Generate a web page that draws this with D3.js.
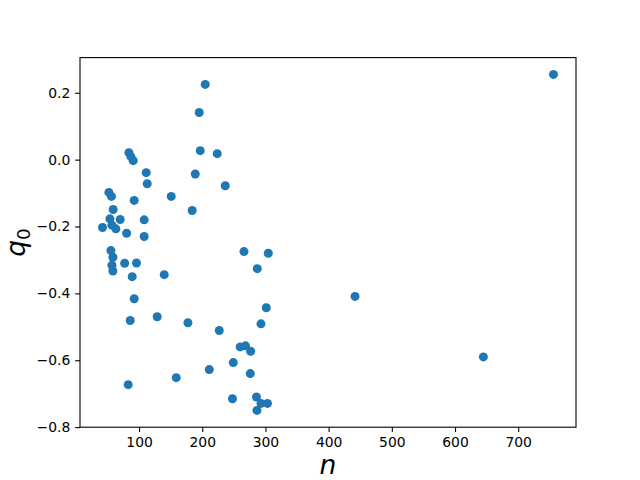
<!DOCTYPE html>
<html>
<head>
<meta charset="utf-8">
<script src="https://cdn.jsdelivr.net/npm/d3@7"></script>
<style>
  html, body { margin: 0; padding: 0; background: #fff; }
  svg { display: block; }
  text { font-family: "DejaVu Sans", sans-serif; }
</style>
</head>
<body>
<svg id="chart" width="640" height="480"></svg>
<script>
// Data
const nValues = [204.7, 195.2, 83.9, 87.1, 90.7, 196.8, 223.7, 111.3, 188.9, 112.9,
  236.4, 52.2, 56.2, 92.3, 150.9, 184.1, 59.0, 53.8, 70.1, 108.1,
  42.2, 57.0, 63.3, 80.3, 108.1, 55.4, 58.6, 57.0, 58.6, 77.2,
  95.9, 89.1, 139.8, 266.0, 304.5, 287.1, 92.3, 86.0, 128.7, 177.3,
  226.9, 301.3, 292.9, 260.0, 268.4, 276.6, 249.1, 276.0, 211.1, 158.8,
  82.8, 247.8, 285.8, 292.9, 303.2, 286.6, 755.8, 644.9, 441.8];
const q0Values = [0.225, 0.141, 0.021, 0.009, -0.003, 0.027, 0.018, -0.039, -0.043, -0.072,
  -0.078, -0.098, -0.110, -0.122, -0.110, -0.152, -0.149, -0.177, -0.179, -0.180,
  -0.203, -0.196, -0.207, -0.220, -0.230, -0.272, -0.292, -0.316, -0.333, -0.310,
  -0.309, -0.350, -0.344, -0.275, -0.280, -0.326, -0.416, -0.481, -0.470, -0.488,
  -0.511, -0.443, -0.491, -0.560, -0.557, -0.573, -0.607, -0.640, -0.628, -0.652,
  -0.673, -0.715, -0.710, -0.729, -0.729, -0.750, 0.255, -0.590, -0.409];
const xTicks = [100, 200, 300, 400, 500, 600, 700];
const yTicks = [-0.8, -0.6, -0.4, -0.2, 0.0, 0.2];

const mL = 80, mR = 576, mT = 57.6, mB = 427.2;
const svg = d3.select("#chart");

function padded(vals) {
  const [a, b] = d3.extent(vals);
  const m = (b - a) * 0.05;
  return [a - m, b + m];
}
const x = d3.scaleLinear().domain(padded(nValues)).range([mL, mR]);
const y = d3.scaleLinear().domain(padded(q0Values)).range([mB, mT]);

const fmtY = d => d3.format(".1f")(d).replace("-", "\u2212");

// points
svg.append("g").selectAll("circle")
  .data(nValues.map((n, i) => [n, q0Values[i]]))
  .join("circle")
  .attr("cx", d => x(d[0]))
  .attr("cy", d => y(d[1]))
  .attr("r", 4.5)
  .attr("fill", "#1f77b4");

// axes
const xAxis = d3.axisBottom(x).tickValues(xTicks).tickFormat(d3.format("d"))
  .tickSize(4.86).tickPadding(4.86).tickSizeOuter(0);
const yAxis = d3.axisLeft(y).tickValues(yTicks).tickFormat(fmtY)
  .tickSize(4.86).tickPadding(4.86).tickSizeOuter(0);

const gx = svg.append("g").attr("transform", `translate(0,${mB})`).call(xAxis);
const gy = svg.append("g").attr("transform", `translate(${mL},0)`).call(yAxis);
[gx, gy].forEach(g => {
  g.select(".domain").remove();
  g.selectAll(".tick line").attr("stroke", "#000").attr("stroke-width", 1.1);
  g.selectAll(".tick text").attr("fill", "#000")
    .style("font-family", "'DejaVu Sans', sans-serif").style("font-size", "13.9px");
});

// frame
svg.append("rect")
  .attr("x", mL).attr("y", mT)
  .attr("width", mR - mL).attr("height", mB - mT)
  .attr("fill", "none").attr("stroke", "#000").attr("stroke-width", 1.1);

// axis labels
svg.append("text")
  .attr("x", (mL + mR) / 2).attr("y", 473.5)
  .attr("text-anchor", "middle")
  .style("font-family", "'DejaVu Sans', sans-serif")
  .style("font-style", "oblique").style("font-size", "26.5px")
  .text("n");

const yl = svg.append("text")
  .attr("transform", `translate(25,${(mT + mB) / 2}) rotate(-90)`)
  .attr("text-anchor", "middle")
  .style("font-family", "'DejaVu Sans', sans-serif")
  .style("font-size", "26.5px");
yl.append("tspan").style("font-style", "oblique").text("q");
yl.append("tspan").attr("dy", 5).style("font-size", "18.5px").text("0");
</script>
</body>
</html>
